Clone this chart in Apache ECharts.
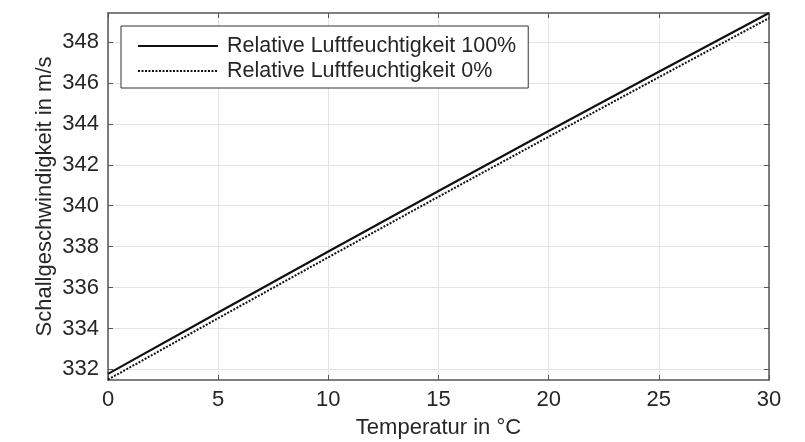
<!DOCTYPE html>
<html>
<head>
<meta charset="utf-8">
<script src="https://cdn.jsdelivr.net/npm/echarts@6/dist/echarts.min.js"></script>
<style>
  html, body { margin: 0; padding: 0; background: #fff; }
  #chart { width: 805px; height: 442px; }
</style>
</head>
<body>
<div id="chart"></div>
<script>
// Temperatur in °C
var temps = [0, 5, 10, 15, 20, 25, 30];
// Schallgeschwindigkeit in m/s
var humid100 = [331.78, 334.78, 337.76, 340.72, 343.65, 346.55, 349.42];
var humid0 = [331.50, 334.50, 337.48, 340.44, 343.37, 346.28, 349.17];
var yTicks = [332, 334, 336, 338, 340, 342, 344, 346, 348];
var seriesNames = ['Relative Luftfeuchtigkeit 100%', 'Relative Luftfeuchtigkeit 0%'];

function pairs(ys) {
  return temps.map(function (t, i) { return [t, ys[i]]; });
}

var font = 'Liberation Sans, Arial, sans-serif';
var frame = '#555';
var txt = '#262626';
var chart = echarts.init(document.getElementById('chart'));

var xBase = {
  type: 'value', min: 0, max: 30, interval: 5,
  axisLine: { show: true, onZero: false, lineStyle: { color: frame, width: 1.5 } },
  axisTick: { show: true, inside: true, length: 5, lineStyle: { color: frame } }
};
var yBase = {
  type: 'value', min: 331.48, max: 349.42,
  axisLine: { show: true, onZero: false, lineStyle: { color: frame, width: 1.5 } },
  axisTick: { show: true, inside: true, length: 5, customValues: yTicks, lineStyle: { color: frame } }
};

chart.setOption({
  animation: false,
  grid: { left: 108, right: 36, top: 13, bottom: 62, containLabel: false, outerBoundsMode: 'none' },
  legend: {
    left: 121, top: 26, orient: 'vertical',
    padding: [9, 12, 6, 16],
    borderColor: '#333', borderWidth: 1, backgroundColor: '#fff',
    itemWidth: 80, itemHeight: 14, itemGap: 3,
    itemStyle: { opacity: 0 },
    textStyle: { fontFamily: font, fontSize: 21.5, color: txt, lineHeight: 22, padding: [0, 0, 0, 4] },
    data: seriesNames
  },
  xAxis: [
    Object.assign({}, xBase, {
      position: 'bottom',
      name: 'Temperatur in °C', nameLocation: 'middle', nameGap: 37, nameMoveOverlap: false,
      nameTextStyle: { fontFamily: font, fontSize: 22, color: txt },
      axisLabel: { margin: 9, fontFamily: font, fontSize: 22, color: txt },
      splitLine: { show: true, lineStyle: { color: '#e4e4e4', width: 1 } }
    }),
    Object.assign({}, xBase, {
      position: 'top',
      axisLabel: { show: false },
      splitLine: { show: false }
    })
  ],
  yAxis: [
    Object.assign({}, yBase, {
      position: 'left',
      name: 'Schallgeschwindigkeit in m/s', nameLocation: 'middle', nameGap: 52, nameMoveOverlap: false,
      nameTextStyle: { fontFamily: font, fontSize: 22, color: txt },
      axisLabel: { margin: 9, fontFamily: font, fontSize: 22, color: txt, customValues: yTicks },
      splitLine: { show: true, lineStyle: { color: '#e4e4e4', width: 1 } }
    }),
    Object.assign({}, yBase, {
      position: 'right',
      axisLabel: { show: false },
      splitLine: { show: false }
    })
  ],
  series: [
    {
      name: seriesNames[0], type: 'line', xAxisIndex: 0, yAxisIndex: 0,
      data: pairs(humid100), symbol: 'none', smooth: false,
      lineStyle: { color: '#111', width: 2.2, type: 'solid' },
      itemStyle: { color: '#111' }, z: 3
    },
    {
      name: seriesNames[1], type: 'line', xAxisIndex: 0, yAxisIndex: 0,
      data: pairs(humid0), symbol: 'none', smooth: false,
      lineStyle: { color: '#111', width: 2, type: [2, 1.5] },
      itemStyle: { color: '#111' }, z: 3
    }
  ]
});
</script>
</body>
</html>
